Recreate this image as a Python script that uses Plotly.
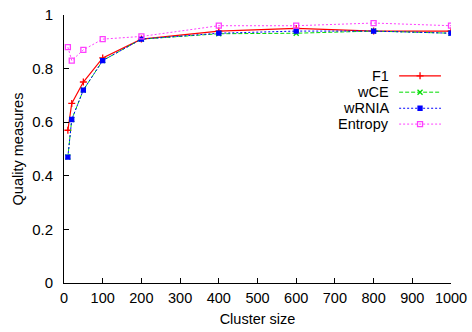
import plotly.graph_objects as go

cluster_size = [10, 20, 50, 100, 200, 400, 600, 800, 1000]
f1 = [0.57, 0.67, 0.75, 0.84, 0.91, 0.94, 0.95, 0.94, 0.94]
wce = [0.47, 0.61, 0.72, 0.83, 0.91, 0.93, 0.932, 0.94, 0.932]
wrnia = [0.47, 0.61, 0.72, 0.83, 0.91, 0.932, 0.94, 0.94, 0.932]
entropy = [0.88, 0.83, 0.87, 0.91, 0.92, 0.96, 0.96, 0.97, 0.96]
legend_names = ["F1", "wCE", "wRNIA", "Entropy"]

styles = [
    ("#ff0000", "solid", "cross-thin", 5, 1.2),
    ("#00dd00", "4px,2px", "x-thin", 5, 1.0),
    ("#0000ff", "2px,2px", "square", 4, 1.0),
    ("#ff40ff", "2px,2px", "square-open", 5, 1.0),
]
values = [f1, wce, wrnia, entropy]

FONT = "Liberation Sans, Arial, Helvetica, sans-serif"
fig = go.Figure()
for name, vals, (col, dash, sym, msize, lw) in zip(legend_names, values, styles):
    fig.add_trace(go.Scatter(
        x=cluster_size, y=vals, mode="lines+markers", name=name,
        line=dict(color=col, dash=dash, width=lw),
        marker=dict(symbol=sym, size=msize, color=col,
                    line=dict(color=col, width=1.3)),
        showlegend=False))

# custom legend (text left of sample, right aligned), drawn on overlay axes
leg_y = [0.773, 0.712, 0.652, 0.593]
for name, (col, dash, sym, msize, lw), yy in zip(legend_names, styles, leg_y):
    fig.add_trace(go.Scatter(
        x=[0.866, 0.974], y=[yy, yy], xaxis="x2", yaxis="y2", mode="lines",
        line=dict(color=col, dash=dash, width=lw), showlegend=False,
        hoverinfo="skip"))
    fig.add_trace(go.Scatter(
        x=[0.92], y=[yy], xaxis="x2", yaxis="y2", mode="markers",
        marker=dict(symbol=sym, size=msize, color=col,
                    line=dict(color=col, width=1.3)),
        showlegend=False, hoverinfo="skip"))
    fig.add_annotation(x=0.843, y=yy, xref="x2", yref="y2", text=name,
                       showarrow=False, xanchor="right", yanchor="middle",
                       font=dict(size=14.5, color="black", family=FONT),
                       borderpad=0)

fig.update_layout(
    width=472, height=332,
    margin=dict(l=64, r=21, t=15, b=49, autoexpand=False),
    paper_bgcolor="white", plot_bgcolor="white",
    font=dict(family=FONT, size=14.5, color="black"),
    xaxis=dict(range=[0, 1000], tickmode="linear", tick0=0, dtick=100,
               ticks="inside", ticklen=5, tickcolor="black",
               showline=True, linecolor="black", linewidth=1,
               showgrid=False, zeroline=False, mirror=False,
               ticklabelstandoff=2, automargin=False,
               title=dict(text="Cluster size", font=dict(size=14.5), standoff=8),
               tickfont=dict(size=14.5)),
    yaxis=dict(range=[0, 1], tickmode="linear", tick0=0, dtick=0.2,
               ticks="inside", ticklen=5, tickcolor="black",
               showline=True, linecolor="black", linewidth=1,
               showgrid=False, zeroline=False, mirror=False,
               tickformat="~g", ticklabelstandoff=7, automargin=False,
               title=dict(text="Quality measures", font=dict(size=14.5), standoff=5),
               tickfont=dict(size=15)),
    xaxis2=dict(overlaying="x", range=[0, 1], visible=False),
    yaxis2=dict(overlaying="y", range=[0, 1], visible=False),
)

fig.write_html("out.html")
